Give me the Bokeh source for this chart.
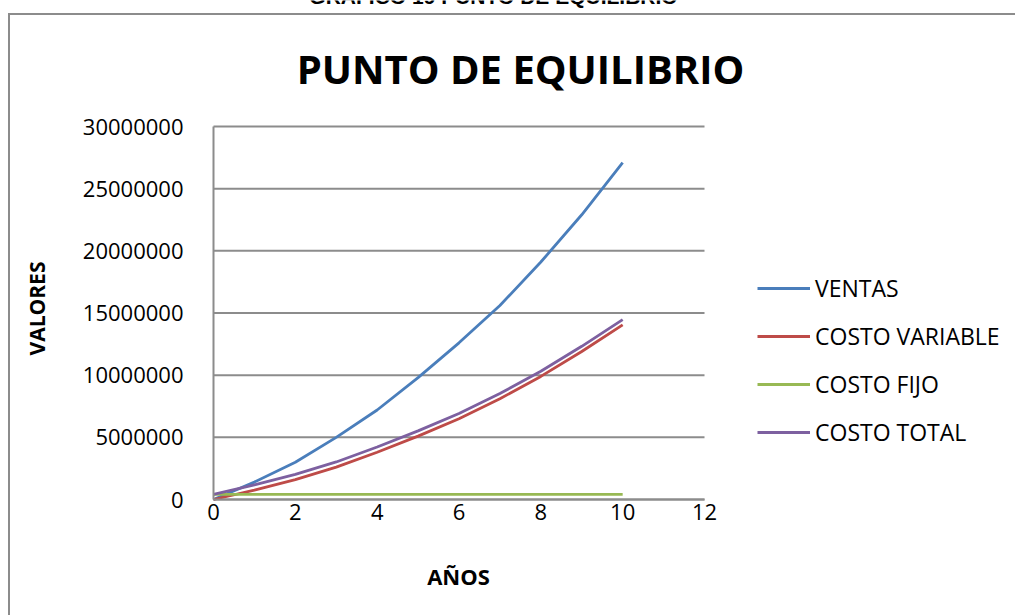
import math
from bokeh.plotting import figure
from bokeh.models import (Range1d, Legend, LegendItem, FixedTicker, Label,
                          NumeralTickFormatter, InlineStyleSheet)
from bokeh.embed import file_html
from bokeh.resources import INLINE

# ---- data ----
years = [0, 1, 2, 3, 4, 5, 6, 7, 8, 9, 10]
ventas = [0, 1400000, 3000000, 5000000, 7200000, 9800000, 12600000, 15600000, 19100000, 22900000, 27100000]
costo_variable = [0, 750000, 1600000, 2600000, 3800000, 5100000, 6500000, 8100000, 9900000, 11900000, 14050000]
costo_fijo = [420000] * 11
costo_total = [v + f for v, f in zip(costo_variable, costo_fijo)]
x_ticks = [0, 2, 4, 6, 8, 10, 12]
y_ticks = [0, 5000000, 10000000, 15000000, 20000000, 25000000, 30000000]
series_names = ["VENTAS", "COSTO VARIABLE", "COSTO FIJO", "COSTO TOTAL"]
colors = ["#4A7EBB", "#BE4B48", "#98B954", "#7D60A0"]

W, H = 1015, 615
L, R, T, B = 213, 704, 126, 499
XMAX, YMAX = 12.0, 30000000.0
xs = (R - L) / XMAX          # px per x unit
ys = (B - T) / YMAX          # px per y unit

def dx(px):
    return (px - L) / xs

def dy(py):
    return (B - py) / ys

FONT = "Open Sans"
grey = "#8C8C8C"

border_css = InlineStyleSheet(css="""
:host { position: relative; }
:host::after {
  content: ""; position: absolute; left: 8px; top: 13px; right: -20px; bottom: -20px;
  border-left: 2px solid #8C8C8C; border-top: 2px solid #8C8C8C; pointer-events: none;
}
""")

p = figure(width=W, height=H, output_backend="svg", toolbar_location=None,
           x_range=Range1d(dx(0), dx(W)), y_range=Range1d(dy(H), dy(0)),
           min_border_left=0, min_border_right=0, min_border_top=0, min_border_bottom=0,
           stylesheets=[border_css])
p.outline_line_color = None
p.background_fill_color = "white"
p.border_fill_color = "white"

p.xaxis.ticker = FixedTicker(ticks=x_ticks)
p.yaxis.ticker = FixedTicker(ticks=y_ticks)
p.xaxis.fixed_location = 0
p.yaxis.fixed_location = 0
p.xaxis.bounds = (0, XMAX)
p.yaxis.bounds = (0, YMAX)
p.yaxis.formatter = NumeralTickFormatter(format="0")
for ax in (p.xaxis[0], p.yaxis[0]):
    ax.major_tick_line_color = None
    ax.minor_tick_line_color = None
    ax.axis_line_color = grey
    ax.axis_line_width = 2
    ax.major_label_text_font = FONT
    ax.major_label_text_font_size = "22px"
    ax.major_label_text_color = "black"
p.xaxis.major_label_standoff = -2
p.yaxis.major_label_standoff = 24
p.xgrid.grid_line_color = None
p.ygrid.grid_line_color = None

# horizontal gridlines limited to the plotted x extent
p.segment(x0=[0] * len(y_ticks), x1=[XMAX] * len(y_ticks), y0=y_ticks, y1=y_ticks,
          line_color=grey, line_width=2)

renderers = []
for name, data, c in zip(series_names, [ventas, costo_variable, costo_fijo, costo_total], colors):
    r = p.line(years, data, line_color=c, line_width=2.8)
    renderers.append((name, r))

legend = Legend(items=[LegendItem(label=n, renderers=[r]) for n, r in renderers],
                location=(757, H - 448), orientation="vertical",
                glyph_width=53, glyph_height=20, label_height=32, spacing=16,
                label_standoff=5, padding=0, margin=0,
                border_line_alpha=0, background_fill_alpha=0,
                label_text_font=FONT, label_text_font_size="23px", label_text_color="black")
p.add_layout(legend, "center")

p.add_layout(Label(x=dx(520), y=dy(68), text="PUNTO DE EQUILIBRIO", text_align="center",
                   text_baseline="middle", text_font=FONT, text_font_style="bold",
                   text_font_size="40px", text_color="black"))
p.add_layout(Label(x=dx(493), y=dy(7), text="GRAFICO 19 PUNTO DE EQUILIBRIO", text_align="center",
                   text_baseline="bottom", text_font="Liberation Sans", text_font_style="bold",
                   text_font_size="21px", text_color="black"))
p.add_layout(Label(x=dx(36), y=dy(308), text="VALORES", text_align="center", angle=math.pi / 2,
                   text_baseline="middle", text_font=FONT, text_font_style="bold",
                   text_font_size="21px", text_color="black"))
p.add_layout(Label(x=dx(458), y=dy(575), text="AÑOS", text_align="center",
                   text_baseline="middle", text_font=FONT, text_font_style="bold",
                   text_font_size="22px", text_color="black"))

open("out.html", "w").write(file_html(p, INLINE))
